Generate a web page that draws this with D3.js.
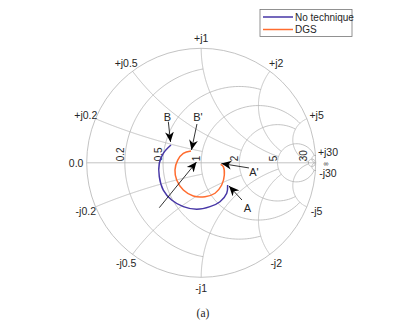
<!DOCTYPE html>
<html lang="en">
<head>
<meta charset="utf-8" />
<title>Smith chart</title>
<script src="https://cdn.jsdelivr.net/npm/d3@7"></script>
<style>
  body { margin: 0; background: white; }
  text { font-family: "Liberation Sans", Arial, sans-serif; fill: #262626; }
</style>
</head>
<body>
<script>
// grid circles: value row and how far each one runs (MATLAB smithplot style)
var gridValues = [0.2, 0.5, 1, 2, 5, 30];
var gridLimits = [1, 2, 5, 5, 30, Infinity];
var resLabels = ["0.2", "0.5", "1", "2", "5", "30"];
var reactLabels = ["0.0", "+j0.2", "+j0.5", "+j1", "+j2", "+j5", "+j30",
                   "-j0.2", "-j0.5", "-j1", "-j2", "-j5", "-j30"];
var reactLabelValues = [0, 0.2, 0.5, 1, 2, 5, 30, -0.2, -0.5, -1, -2, -5, -30];

// measured reflection coefficient (real / imag)
var noTechRe = [-0.264, -0.331, -0.366, -0.366, -0.331, -0.258, -0.156, -0.039, 0.077, 0.164, 0.223, 0.231];
var noTechIm = [0.155, 0.083, -0.004, -0.121, -0.238, -0.325, -0.383, -0.406, -0.383, -0.340, -0.266, -0.194];
var dgsRe = [-0.089, -0.156, -0.205, -0.229, -0.214, -0.156, -0.069, 0.033, 0.121, 0.179, 0.202, 0.193, 0.170];
var dgsIm = [0.103, 0.083, 0.024, -0.063, -0.150, -0.238, -0.290, -0.296, -0.266, -0.194, -0.107, -0.034, -0.013];

// annotations: [label, textRe, textIm, tailRe, tailIm, tipRe, tipIm]
var notes = [
  ["B",  -0.294, 0.404, -0.287, 0.359, -0.268, 0.182],
  ["B'", -0.028, 0.396, -0.037, 0.339, -0.085, 0.112],
  ["",    0, 0, -0.366, -0.392, -0.041, 0.007],
  ["A'",  0.461, -0.080, 0.417, -0.045, 0.177, -0.006],
  ["A",   0.404, -0.395, 0.356, -0.325, 0.243, -0.203]
];

var w = 405, h = 323;
var cx = 201.2, cy = 162.8, R = 114.5;
var gridColor = "#b4b4b4";
var blue = "#4636a6", orange = "#ff6c2f";

var xScale = d3.scaleLinear().domain([-1, 1]).range([cx - R, cx + R]);
var yScale = d3.scaleLinear().domain([-1, 1]).range([cy + R, cy - R]);

function gamma(r, x) {
  if (!isFinite(r) || !isFinite(x)) return [1, 0];
  var d = (r + 1) * (r + 1) + x * x;
  return [(r * r + x * x - 1) / d, 2 * x / d];
}

var line = d3.line()
  .x(function(d) { return xScale(d[0]); })
  .y(function(d) { return yScale(d[1]); });

var svg = d3.select("body").append("svg")
  .attr("width", w).attr("height", h);

var grid = svg.append("g")
  .attr("fill", "none")
  .attr("stroke", gridColor)
  .attr("stroke-width", 0.8);

grid.append("circle")
  .attr("cx", xScale(0)).attr("cy", yScale(0))
  .attr("r", xScale(1) - xScale(0));

grid.append("line")
  .attr("x1", xScale(-1)).attr("y1", yScale(0))
  .attr("x2", xScale(1)).attr("y2", yScale(0));

var n = 240;
gridValues.forEach(function(v, i) {
  var lim = Math.atan(gridLimits[i]);
  // resistance circle r = v, for |x| <= limit
  var pts = d3.range(n + 1).map(function(k) {
    var t = -lim + 2 * lim * k / n;
    return gamma(v, Math.tan(t));
  });
  grid.append("path").attr("d", line(pts));
  // reactance arcs x = +v and -v, for r <= limit
  [v, -v].forEach(function(xv) {
    var arc = d3.range(n + 1).map(function(k) {
      return gamma(Math.tan(lim * k / n), xv);
    });
    grid.append("path").attr("d", line(arc));
  });
});

// resistance labels along the real axis
gridValues.forEach(function(v, i) {
  var p = gamma(v, 0);
  svg.append("text")
    .attr("transform", "translate(" + (xScale(p[0]) - 1) + "," + (yScale(0) - 1.5) + ") rotate(-90)")
    .attr("font-size", 10)
    .text(resLabels[i]);
});

// reactance labels outside the rim
reactLabelValues.forEach(function(v, i) {
  var p = gamma(0, v);
  var a = Math.atan2(p[1], p[0]);
  // the two labels next to infinity are pushed apart a little
  var nudge = Math.abs(v) === 30 ? (v > 0 ? -2 : 2) : 0;
  svg.append("text")
    .attr("x", xScale(1.092 * Math.cos(a)) + (nudge ? 2 : 0))
    .attr("y", yScale(1.092 * Math.sin(a)) + nudge)
    .attr("text-anchor", "middle")
    .attr("dominant-baseline", "central")
    .attr("font-size", 10.5)
    .text(reactLabels[i]);
});
svg.append("text")
  .attr("x", xScale(1.09)).attr("y", yScale(-0.006))
  .attr("text-anchor", "middle")
  .attr("dominant-baseline", "central")
  .attr("font-size", 7)
  .text("\u221e");

// data curves
var curve = d3.line()
  .x(function(d) { return xScale(d[0]); })
  .y(function(d) { return yScale(d[1]); })
  .curve(d3.curveCatmullRom);

svg.append("path")
  .attr("d", curve(d3.zip(noTechRe, noTechIm)))
  .attr("fill", "none").attr("stroke", blue).attr("stroke-width", 1.5);
svg.append("path")
  .attr("d", curve(d3.zip(dgsRe, dgsIm)))
  .attr("fill", "none").attr("stroke", orange).attr("stroke-width", 1.5);

// arrows
svg.append("defs").append("marker")
  .attr("id", "head")
  .attr("markerUnits", "userSpaceOnUse")
  .attr("markerWidth", 12).attr("markerHeight", 10)
  .attr("refX", 10).attr("refY", 5)
  .attr("orient", "auto")
  .append("path")
  .attr("d", "M10,5 L0,0.6 L3,5 L0,9.4 Z")
  .attr("fill", "black");

notes.forEach(function(d) {
  svg.append("line")
    .attr("x1", xScale(d[3])).attr("y1", yScale(d[4]))
    .attr("x2", xScale(d[5])).attr("y2", yScale(d[6]))
    .attr("stroke", "black").attr("stroke-width", 0.8)
    .attr("marker-end", "url(#head)");
  if (d[0]) {
    svg.append("text")
      .attr("x", xScale(d[1])).attr("y", yScale(d[2]))
      .attr("text-anchor", "middle")
      .attr("dominant-baseline", "central")
      .attr("font-size", 11)
      .text(d[0]);
  }
});

// legend
var lg = svg.append("g").attr("transform", "translate(260,9.5)");
lg.append("rect")
  .attr("width", 92).attr("height", 27)
  .attr("fill", "white").attr("stroke", "#777").attr("stroke-width", 0.8);
[["No technique", blue], ["DGS", orange]].forEach(function(e, i) {
  var y = 7.5 + i * 12.5;
  lg.append("line")
    .attr("x1", 3).attr("x2", 33).attr("y1", y).attr("y2", y)
    .attr("stroke", e[1]).attr("stroke-width", 1.5);
  lg.append("text")
    .attr("x", 35).attr("y", y)
    .attr("dominant-baseline", "central")
    .attr("font-size", 10)
    .text(e[0]);
});

// caption
svg.append("text")
  .attr("x", 203).attr("y", 313)
  .attr("text-anchor", "middle")
  .attr("dominant-baseline", "central")
  .style("font-family", "'Liberation Serif', 'Times New Roman', serif")
  .attr("font-size", 11.5)
  .text("(a)");
</script>
</body>
</html>
